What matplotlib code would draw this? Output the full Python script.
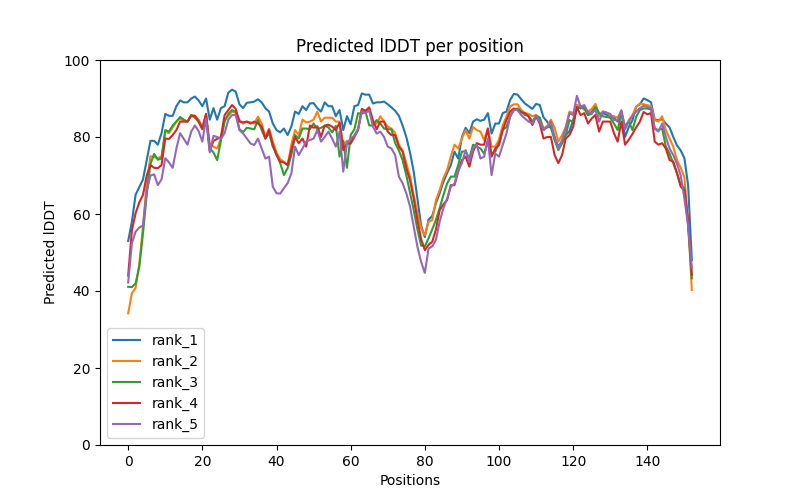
import numpy as np
import matplotlib
matplotlib.use('Agg')
import matplotlib.pyplot as plt

# predicted lDDT per residue
rank_1 = [53, 58, 65, 67, 69, 74, 79, 79, 78, 81,
          86, 85.5, 85.5, 88, 89.5, 89, 89, 90, 90.5, 89.5,
          88, 90, 84.5, 87.5, 84.5, 87.5, 88, 91.5, 92.3, 91.8,
          88.5, 87.5, 88.9, 89, 89.2, 89.8, 89, 87.5, 86.6, 83.5,
          81.8, 81.2, 82.2, 80.5, 82.7, 86.6, 86, 88, 87, 88.7,
          88.8, 87.5, 86.6, 89, 88, 88, 85.4, 87, 81.8, 85.4,
          83.3, 88, 88.3, 91.3, 91, 91, 88.7, 89, 89, 89.2,
          88.5, 87.7, 86.8, 85.5, 83, 80, 76, 71, 64, 57,
          54, 58.5, 59.5, 62.8, 65.4, 68.3, 70.6, 72.7, 76.2, 74.4,
          80, 82.4, 81, 84, 84.6, 84.2, 84.5, 86.2, 80.9, 83.5,
          83.5, 86.2, 86.6, 89.6, 91.2, 91, 89.8, 88.7, 88, 87.3,
          88.6, 88.3, 85.1, 84, 82.5, 80, 77.5, 78.8, 80.5, 81.5,
          84.4, 88.3, 87.4, 87.9, 85.7, 86.5, 88.3, 86, 86.2, 85.8,
          85.4, 85, 84, 86.6, 80, 82.6, 84.4, 87.9, 88.5, 90,
          89.6, 89, 84.5, 84.4, 84.6, 83.5, 82.5, 80, 77.8, 76.5,
          74.5, 67.5, 48]
rank_2 = [34.2, 39.4, 40.8, 47, 57, 68, 75, 74.8, 74.5, 75,
          81.4, 81, 82.5, 84, 84.8, 84.2, 84, 85.7, 85.5, 84.5,
          82.7, 86, 78.3, 77.5, 77, 79.6, 84.4, 85.5, 86.6, 86.3,
          84.4, 83.5, 84, 83.8, 83.5, 85.3, 83.5, 80, 82, 78.8,
          76, 74.2, 73.6, 72.7, 78, 81.8, 80.5, 84.5, 83.8, 84,
          84.5, 86.6, 84, 85, 85, 85, 84, 84, 78, 79,
          79, 80.5, 82.2, 87, 86.6, 87, 83.5, 83.5, 85.4, 84,
          82.7, 82.2, 81, 78, 76.5, 73.2, 69.7, 65, 60.2, 56.3,
          54.5, 58, 58.4, 63.6, 66.2, 69.3, 71.4, 74.9, 78, 77,
          79.6, 81.8, 79.6, 82.6, 81.8, 81.4, 79.2, 82.2, 77.5, 77.5,
          79.3, 83, 85.3, 87.9, 88.5, 88.5, 87, 86.2, 86, 85.4,
          85.7, 85, 82.2, 82.9, 84.5, 82.4, 78.8, 80.5, 82.6, 86.6,
          86.2, 88.3, 88, 87, 86.6, 87.3, 88.6, 85.4, 86.6, 86.4,
          85.6, 85.4, 85, 86.9, 82.4, 84.4, 85.7, 87.9, 88.7, 88.5,
          88.3, 88, 84.4, 84, 85.4, 81.8, 79.6, 77.5, 74, 72,
          69.5, 58, 40.3]
rank_3 = [41.1, 41, 42, 46.3, 55, 65, 73, 75.6, 74.1, 74.4,
          81.8, 81.4, 83, 84, 85.2, 84.5, 84, 85.7, 85, 84,
          82, 85.5, 77, 76, 74, 79, 84, 86, 87, 86.5,
          82, 81.3, 82.4, 82.2, 82, 84.4, 81.8, 79.6, 81, 77.5,
          75.5, 73.2, 70.1, 71.9, 75.3, 80.5, 79.6, 82.2, 82.2, 82,
          83.5, 82, 82.4, 82.9, 82.5, 81.2, 82.9, 74.9, 79, 72,
          80.5, 82, 86.2, 86, 86.6, 83, 83, 84.4, 83.5, 82.2,
          82, 82, 78.4, 76.5, 74, 70.1, 65.5, 61, 56, 51.8,
          51.6, 53.7, 56, 58.5, 61.5, 64.9, 67.9, 69.7, 69.7, 72.7,
          76.2, 76.3, 74.4, 78, 77.5, 77, 75.7, 78.8, 75.7, 76.2,
          78.4, 81.8, 82.6, 85.3, 87, 87.4, 86.6, 85.7, 85.5, 84,
          85.5, 85, 81.8, 82.6, 82.5, 79.2, 76.6, 78.3, 80.5, 84.4,
          83.9, 87.3, 87.8, 87.5, 85.7, 86, 87.8, 86.2, 85.4, 85.2,
          85, 83.5, 81.8, 86.2, 82.8, 84, 81.8, 85.3, 87, 87.4,
          87.4, 87.2, 82.2, 81.8, 82.2, 77.5, 75.7, 73.2, 70.6, 67.5,
          66.8, 57, 43.3]
rank_4 = [44, 55.8, 60.2, 63, 65, 70, 72.7, 72, 71.9, 72.7,
          79.6, 79.5, 80.5, 81.8, 84, 84, 84, 85.5, 85.5, 84,
          82.1, 86, 76.3, 79, 79.5, 80, 85.7, 87, 88.3, 87.3,
          84, 83.8, 84, 83.5, 84, 83.5, 82.7, 79.6, 82, 78,
          75.3, 73.6, 73.4, 72.7, 76.6, 80, 78.4, 79.6, 77.5, 83,
          82.4, 82.8, 80, 83, 83.2, 82.7, 81.8, 83.7, 76.6, 78.3,
          78.3, 80, 81.8, 87.3, 86.8, 87.7, 84.4, 82, 84, 84,
          81.4, 80.5, 80.5, 77.5, 76.2, 71.9, 68.8, 64, 58.4, 53.5,
          50.6, 52, 52.8, 56, 61, 62.5, 63.6, 67.5, 67.5, 71,
          74, 74.9, 72.3, 76.2, 78.4, 78, 78, 82.2, 74.9, 77,
          77.9, 81.8, 84.4, 86.6, 87.4, 87, 86.4, 86.2, 85.3, 83.1,
          85.3, 83.5, 79.6, 80, 80, 75.3, 73.2, 75.3, 79.6, 80.5,
          82.6, 87.8, 85.7, 86.2, 83.5, 84.8, 85.7, 81.4, 84, 84,
          84, 81, 78.8, 84, 78, 79.3, 80.8, 82.5, 84, 86.5,
          85.9, 86.2, 78.8, 78, 78.4, 77, 74, 73.6, 70.6, 67.1,
          66.2, 58.4, 44.2]
rank_5 = [42.2, 52.4, 55.4, 56.5, 57, 66, 70, 70.3, 67.5, 69,
          74.5, 73.4, 72, 77, 81, 79.5, 78, 81.4, 83, 81.5,
          78.8, 84.8, 76, 80.3, 80, 79.5, 81, 84.5, 85.7, 85.7,
          81.8, 80.9, 79.6, 78.3, 77.9, 79.6, 77, 74.4, 74.9, 67.1,
          65.4, 65.3, 66.7, 68, 70.5, 77.5, 75.3, 77, 78.8, 79.2,
          79.6, 81.8, 78.8, 80, 81.4, 79.6, 77.5, 81.4, 71, 78.3,
          79.6, 80.3, 82, 86.6, 86.2, 86.9, 82.7, 80.9, 81.4, 80,
          77.5, 77, 75.3, 69.7, 68, 65.4, 62, 56.8, 51.5, 47.6,
          44.7, 51, 51.6, 53.3, 58, 61.5, 64, 67.1, 67.9, 71.4,
          73.2, 76.6, 73.6, 77, 78, 74.4, 74.9, 79.6, 70.1, 75.7,
          74.9, 77.9, 80.9, 85.3, 87, 87, 85.7, 84.8, 84, 83.5,
          85.5, 84, 81.8, 82.5, 84, 80, 77, 79.2, 82.2, 86.2,
          85.7, 90.7, 87.9, 88.3, 86.5, 86.2, 87, 84, 86.6, 86.3,
          86, 84.4, 84.4, 86.9, 82, 84, 85.5, 86.6, 87.5, 88.1,
          87.8, 87.5, 82.2, 81.4, 83.5, 80, 77, 75.3, 73, 70,
          64, 57, 46]

ranks = [rank_1, rank_2, rank_3, rank_4, rank_5]
labels = ['rank_1', 'rank_2', 'rank_3', 'rank_4', 'rank_5']

plt.figure(figsize=(8, 5), dpi=100)
plt.title('Predicted lDDT per position')
for plddt, name in zip(ranks, labels):
    plt.plot(np.arange(len(plddt)), plddt, label=name)
plt.legend()
plt.ylim(0, 100)
plt.ylabel('Predicted lDDT')
plt.xlabel('Positions')
plt.savefig('out.png', dpi=100)
